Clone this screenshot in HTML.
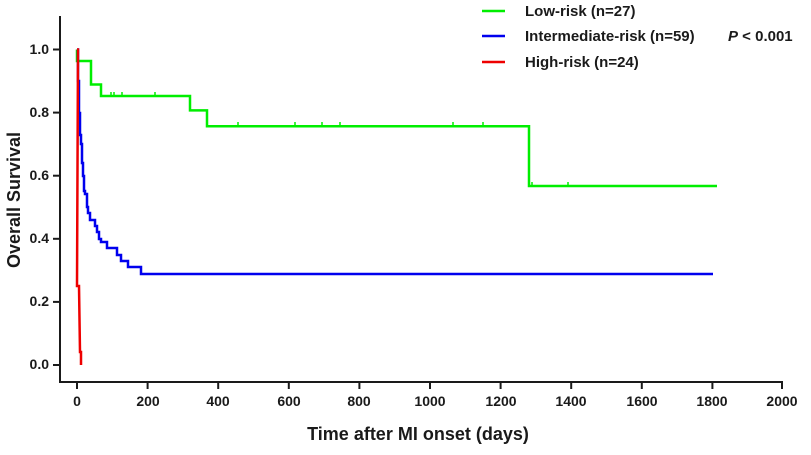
<!DOCTYPE html>
<html><head><meta charset="utf-8"><style>
body{margin:0;background:#fff;}
svg text{font-family:"Liberation Sans",Arial,sans-serif;font-weight:bold;fill:#1a1a1a;}
</style></head><body>
<svg width="811" height="450" viewBox="0 0 811 450" xmlns="http://www.w3.org/2000/svg">
<g stroke="#1a1a1a" stroke-width="2" fill="none">
<line x1="60" y1="16" x2="60" y2="383"/>
<line x1="59" y1="382" x2="783" y2="382"/>
<line x1="53" y1="49.5" x2="60" y2="49.5"/><line x1="53" y1="112.6" x2="60" y2="112.6"/>
<line x1="53" y1="175.7" x2="60" y2="175.7"/><line x1="53" y1="238.8" x2="60" y2="238.8"/>
<line x1="53" y1="301.9" x2="60" y2="301.9"/><line x1="53" y1="365" x2="60" y2="365"/>
<line x1="77" y1="382" x2="77" y2="389"/><line x1="147.6" y1="382" x2="147.6" y2="389"/>
<line x1="218.2" y1="382" x2="218.2" y2="389"/><line x1="288.8" y1="382" x2="288.8" y2="389"/>
<line x1="359.4" y1="382" x2="359.4" y2="389"/><line x1="430" y1="382" x2="430" y2="389"/>
<line x1="500.6" y1="382" x2="500.6" y2="389"/><line x1="571.2" y1="382" x2="571.2" y2="389"/>
<line x1="641.8" y1="382" x2="641.8" y2="389"/><line x1="712.4" y1="382" x2="712.4" y2="389"/>
<line x1="782" y1="382" x2="782" y2="389"/>
</g>
<g font-size="14" text-anchor="end">
<text x="49" y="54">1.0</text><text x="49" y="117">0.8</text><text x="49" y="180">0.6</text>
<text x="49" y="243">0.4</text><text x="49" y="306">0.2</text><text x="49" y="369">0.0</text>
</g>
<g font-size="14" text-anchor="middle">
<text x="77" y="406">0</text><text x="148" y="406">200</text><text x="218" y="406">400</text>
<text x="289" y="406">600</text><text x="359" y="406">800</text><text x="430" y="406">1000</text>
<text x="501" y="406">1200</text><text x="571" y="406">1400</text><text x="642" y="406">1600</text>
<text x="712" y="406">1800</text><text x="782" y="406">2000</text>
</g>
<text x="418" y="440" font-size="18" text-anchor="middle">Time after MI onset (days)</text>
<text transform="translate(20,200) rotate(-90)" font-size="18" text-anchor="middle">Overall Survival</text>
<g fill="none" stroke-width="2.5">
<polyline stroke="#00ee00" points="77,49.5 77,61 91,61 91,84.5 101,84.5 101,96 190,96 190,110.4 207,110.4 207,126.2 529,126.2 529,186 717,186"/>
<polyline stroke="#0000ee" points="77,49.5 78,49.5 78,81 79,81 79,113 80,113 80,135 81,135 81,144 82,144 82,163 83,163 83,176 84,176 84,191 85,191 85,194 87,194 87,207 88,207 88,213 90,213 90,220 95,220 95,226 97,226 97,232 99,232 99,239 101,239 101,242 107,242 107,248 117,248 117,255 121,255 121,261 128,261 128,267 141,267 141,274 713,274"/>
<polyline stroke="#ee0000" points="77,49.5 78,49.5 77,286 79,286 80,352 81,352 81,365"/>
</g>
<g stroke="#00ee00" stroke-width="1.5">
<line x1="111" y1="92" x2="111" y2="96"/><line x1="114" y1="92" x2="114" y2="96"/><line x1="122" y1="92" x2="122" y2="96"/>
<line x1="155" y1="92" x2="155" y2="96"/><line x1="238" y1="122" x2="238" y2="126"/><line x1="295" y1="122" x2="295" y2="126"/>
<line x1="322" y1="122" x2="322" y2="126"/><line x1="340" y1="122" x2="340" y2="126"/><line x1="453" y1="122" x2="453" y2="126"/>
<line x1="483" y1="122" x2="483" y2="126"/><line x1="532" y1="182" x2="532" y2="186"/><line x1="568" y1="182" x2="568" y2="186"/>
</g>
<g stroke-width="2.5">
<line x1="482" y1="11" x2="505" y2="11" stroke="#00ee00"/>
<line x1="482" y1="36" x2="505" y2="36" stroke="#0000ee"/>
<line x1="482" y1="62" x2="505" y2="62" stroke="#ee0000"/>
</g>
<g font-size="15">
<text x="525" y="16">Low-risk (n=27)</text>
<text x="525" y="41">Intermediate-risk (n=59)</text>
<text x="525" y="67">High-risk (n=24)</text>
<text x="728" y="41"><tspan font-style="italic">P</tspan> &lt; 0.001</text>
</g>
</svg>
</body></html>
